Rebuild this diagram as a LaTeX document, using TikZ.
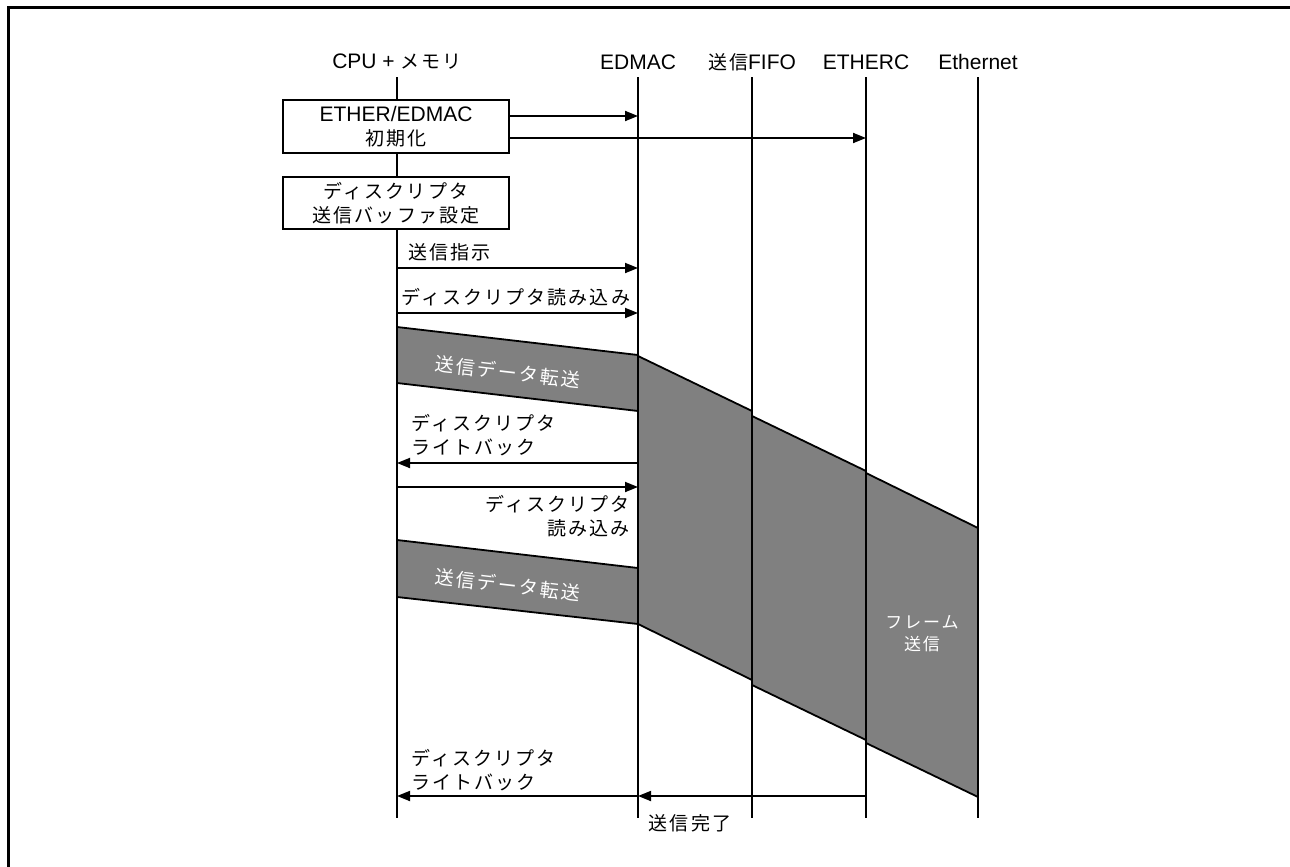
\documentclass[tikz,border=0pt]{standalone}
\usepackage{fontspec}
\setmainfont{Liberation Sans}
\newfontfamily\jp[LetterSpace=11]{Noto Sans CJK JP}
\usetikzlibrary{arrows.meta}

\begin{document}
\begin{tikzpicture}[x=1pt, y=-1pt, font=\fontsize{21}{24}\selectfont,
    >={Triangle[length=13pt, width=10pt]},
    jtext/.style={font=\fontsize{19}{24}\selectfont\jp},
    life/.style={line width=1.8pt},
    msg/.style={->, line width=1.8pt},
    band/.style={draw, fill=black!50, line width=1.8pt},
    stepbox/.style={draw, fill=white, line width=1.8pt, align=center, minimum width=226pt, inner sep=0pt}]
    \useasboundingbox (0,0) rectangle (1290,867);
    \draw[line width=3pt] (8.5,867) -- (8.5,7.5) -- (1290,7.5);

    % Lanes
    \node (cpu) at (397,62) {CPU + {\fontsize{19}{24}\selectfont\jp メモリ}};
    \node (edmac) at (638,62) {EDMAC};
    \node (fifo) at (752,62) {{\fontsize{19}{24}\selectfont\jp 送信}FIFO};
    \node (etherc) at (866,62) {ETHERC};
    \node (eth) at (978,62) {Ethernet};

    % Transfer bands
    \draw[band] (cpu |- 0,327) -- (edmac |- 0,355) -- (edmac |- 0,411) -- (cpu |- 0,383) -- cycle;
    \draw[band] (cpu |- 0,540) -- (edmac |- 0,568) -- (edmac |- 0,624) -- (cpu |- 0,597) -- cycle;
    \draw[band] (edmac |- 0,356) -- (fifo |- 0,411) -- (fifo |- 0,680) -- (edmac |- 0,624) -- cycle;
    \draw[band] (fifo |- 0,416) -- (etherc |- 0,471) -- (etherc |- 0,740) -- (fifo |- 0,685) -- cycle;
    \draw[band] (etherc |- 0,473) -- (eth |- 0,528) -- (eth |- 0,797) -- (etherc |- 0,743) -- cycle;
    \node[jtext, white, rotate=-6.6] (tx1) at (508,372) {送信データ転送};
    \node[jtext, white, rotate=-6.6] (tx2) at (508,585) {送信データ転送};
    \node[jtext, white, align=center, font=\fontsize{17}{22}\selectfont\jp] (frame) at (922,634) {フレーム\\送信};

    \foreach \n in {cpu, edmac, fifo, etherc, eth}
        \draw[life] (\n |- 0,77) -- (\n |- 0,818);

    % CPU side setup
    \node[stepbox, minimum height=53pt] (init) at (396,126.5) {ETHER/EDMAC\\{\fontsize{19}{24}\selectfont\jp 初期化}};
    \node[stepbox, jtext, minimum height=52pt] (setup) at (396,203) {ディスクリプタ\\送信バッファ設定};
    \draw[msg] (init.east |- 0,116) -- (edmac |- 0,116);
    \draw[msg] (init.east |- 0,138) -- (etherc |- 0,138);

    % Messages
    \node[jtext, anchor=west] (order) at (405,252) {送信指示};
    \draw[msg] (cpu |- 0,268) -- (edmac |- 0,268);
    \node[jtext, anchor=west] (read1) at (398,297) {ディスクリプタ読み込み};
    \draw[msg] (cpu |- 0,313) -- (edmac |- 0,313);

    \node[jtext, anchor=west, align=left] (wb1) at (408,435) {ディスクリプタ\\ライトバック};
    \draw[msg] (edmac |- 0,463) -- (cpu |- 0,463);
    \node[jtext, anchor=east, align=right] (read2) at (633,516) {ディスクリプタ\\読み込み};
    \draw[msg] (cpu |- 0,487) -- (edmac |- 0,487);

    \node[jtext, anchor=west, align=left] (wb2) at (408,770) {ディスクリプタ\\ライトバック};
    \draw[msg] (etherc |- 0,796) -- (edmac |- 0,796);
    \draw[msg] (edmac |- 0,796) -- (cpu |- 0,796);
    \node[jtext] (done) at (690,823) {送信完了};
\end{tikzpicture}
\end{document}
